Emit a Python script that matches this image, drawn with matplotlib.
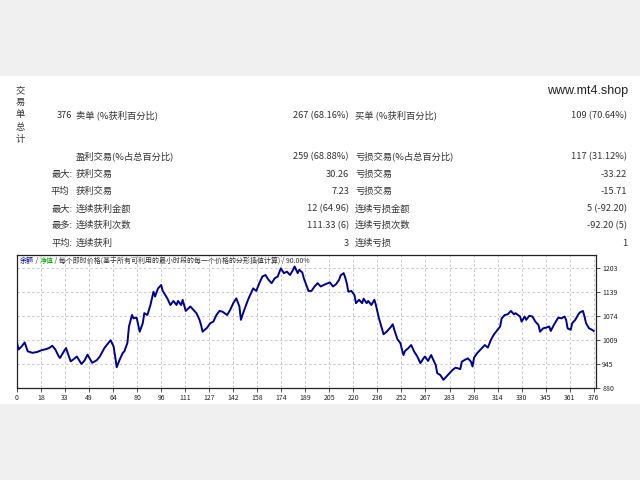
import numpy as np
import matplotlib
matplotlib.use("Agg")
import matplotlib.pyplot as plt
from matplotlib.patches import Rectangle

plt.rcParams['font.family'] = ['Noto Sans CJK SC', 'DejaVu Sans']

# balance curve (trade number, balance)
trade_idx = [0, 1, 3, 5, 7, 10, 13, 16, 19, 21, 23, 25, 27, 28, 30, 32, 33, 35, 37, 39,
             42, 44, 46, 49, 52, 54, 57, 61, 63, 64, 65, 67, 69, 70, 72, 73, 75, 76, 78, 80,
             82, 83, 85, 87, 89, 90, 92, 94, 95, 98, 100, 102, 104, 105, 107, 108, 110, 113, 115, 117,
             119, 120, 121, 124, 126, 128, 130, 132, 134, 137, 139, 141, 143, 145, 146, 147, 149, 151, 154, 156,
             158, 160, 162, 164, 166, 168, 170, 172, 174, 176, 178, 180, 181, 183, 184, 186, 187, 189, 190, 192,
             194, 196, 198, 201, 204, 206, 208, 210, 211, 213, 214, 215, 216, 218, 220, 221, 223, 225, 226, 228,
             229, 231, 233, 234, 236, 239, 241, 244, 245, 246, 248, 250, 251, 252, 253, 255, 257, 258, 259, 261,
             263, 265, 266, 268, 270, 271, 273, 274, 276, 278, 280, 282, 284, 286, 289, 290, 292, 294, 296, 297,
             298, 300, 303, 305, 307, 309, 311, 312, 315, 316, 318, 320, 322, 324, 325, 328, 329, 331, 332, 334,
             336, 338, 340, 341, 343, 345, 347, 348, 350, 352, 353, 355, 357, 358, 359, 361, 362, 364, 366, 367,
             369, 370, 371, 373, 375, 376]
balance = [1002, 984, 992, 1003, 979, 975, 977, 982, 985, 988, 994, 984, 967, 961, 975, 988, 975, 952, 958, 965,
           945, 954, 970, 948, 955, 965, 988, 1009, 992, 965, 936, 957, 975, 979, 1002, 1046, 1077, 1068, 1070, 1032,
           1055, 1082, 1077, 1104, 1140, 1127, 1149, 1158, 1142, 1122, 1104, 1115, 1104, 1115, 1104, 1118, 1088, 1100, 1091, 1082,
           1064, 1050, 1032, 1043, 1055, 1059, 1077, 1088, 1086, 1077, 1091, 1109, 1122, 1100, 1064, 1077, 1100, 1122, 1149, 1142,
           1163, 1181, 1185, 1172, 1163, 1176, 1181, 1203, 1190, 1194, 1185, 1199, 1208, 1190, 1199, 1192, 1176, 1154, 1142, 1142,
           1154, 1163, 1154, 1160, 1165, 1154, 1160, 1172, 1184, 1190, 1178, 1163, 1140, 1142, 1131, 1109, 1118, 1109, 1121, 1109,
           1115, 1104, 1118, 1104, 1068, 1025, 1032, 1046, 1052, 1037, 1012, 1001, 983, 969, 980, 987, 996, 987, 978, 965,
           947, 960, 965, 953, 969, 960, 942, 920, 915, 902, 911, 920, 929, 935, 931, 951, 956, 960, 951, 938,
           962, 974, 987, 996, 989, 1010, 1025, 1030, 1046, 1068, 1077, 1079, 1088, 1079, 1082, 1073, 1059, 1073, 1064, 1075,
           1073, 1059, 1050, 1032, 1041, 1043, 1046, 1034, 1050, 1064, 1070, 1068, 1073, 1064, 1041, 1037, 1055, 1064, 1079, 1084,
           1088, 1073, 1055, 1041, 1037, 1034]

x_labels = ['0', '18', '33', '49', '64', '80', '96', '111', '127', '142', '158', '174', '189',
            '205', '220', '236', '252', '267', '283', '298', '314', '330', '345', '361', '376']
y_ticks = [880, 945, 1009, 1074, 1139, 1203]

# summary table
row_prefix = ['', '', '最大:', '平均', '最大:', '最多:', '平均:']
row_count = ['376', '', '', '', '', '', '']
left_label = ['卖单 (%获利百分比)', '盈利交易(%占总百分比)', '获利交易', '获利交易',
              '连续获利金额', '连续获利次数', '连续获利']
left_value = ['267 (68.16%)', '259 (68.88%)', '30.26', '7.23', '12 (64.96)', '111.33 (6)', '3']
right_label = ['买单 (%获利百分比)', '亏损交易(%占总百分比)', '亏损交易', '亏损交易',
               '连续亏损金额', '连续亏损次数', '连续亏损']
right_value = ['109 (70.64%)', '117 (31.12%)', '-33.22', '-15.71', '5 (-92.20)', '-92.20 (5)', '1']
row_y = [115, 155.7, 173.3, 190.7, 208.3, 225, 242.3]

W, H = 640, 480
fig = plt.figure(figsize=(6.4, 4.8), dpi=100, facecolor='#f0f0f0')
fig.patches.append(Rectangle((0, 1 - 404 / H), 1, (404 - 76) / H, transform=fig.transFigure,
                             facecolor='white', edgecolor='none', zorder=-5))

def px(x, y):
    return x / W, 1 - y / H

tc = '#333333'
fs = 6.7
base = 3.3  # centre of row -> baseline
for k, ch in enumerate('交易单总计'):
    fig.text(*px(20.5, 90 + k * 12.1 + base), ch, fontsize=fs, color=tc, ha='center', va='baseline')

for k in range(len(row_y)):
    y = row_y[k] + base
    if row_prefix[k]:
        xr = 73 if row_prefix[k].endswith(':') else 69
        fig.text(*px(xr, y), row_prefix[k], fontsize=fs, color=tc, ha='right', va='baseline')
    if row_count[k]:
        fig.text(*px(72, y), row_count[k], fontsize=fs, color=tc, ha='right', va='baseline')
    fig.text(*px(76, y), left_label[k], fontsize=fs, color=tc, ha='left', va='baseline')
    fig.text(*px(349, y), left_value[k], fontsize=fs, color=tc, ha='right', va='baseline')
    fig.text(*px(355, y), right_label[k], fontsize=fs, color=tc, ha='left', va='baseline')
    fig.text(*px(627, y), right_value[k], fontsize=fs, color=tc, ha='right', va='baseline')

fig.text(*px(628, 91), 'www.mt4.shop', fontsize=9, family='Liberation Sans',
         color='#222222', ha='right', va='center')

ax = fig.add_axes([17 / W, 1 - 388 / H, (596 - 17) / W, (388 - 255) / H])
ax.plot(trade_idx, balance, color='#00008b', lw=1.4, zorder=3)
ax.set_xlim(0, 377.5)
ax.set_ylim(880, 1239)
ax.set_xticks(np.linspace(0, 376, len(x_labels)))
ax.set_xticklabels(x_labels)
ax.set_yticks(y_ticks)
ax.yaxis.tick_right()
ax.tick_params(axis='both', labelsize=5, length=3, width=0.6, color='#333333',
               labelcolor='#222222', pad=1.5)
ax.grid(True, color='#c8c8c8', lw=0.7, ls=(0, (2.5, 2.5)))
for s in ax.spines.values():
    s.set_color('#222222')
    s.set_linewidth(0.9)

# multi-coloured caption inside the chart
renderer = fig.canvas.get_renderer()
parts = [('余额', '#00008b'), (' / ', '#333333'), ('净值', '#00a000'),
         (' / 每个即时价格(基于所有可利用的最小时段的每一个价格的分形插值计算) / 90.00%', '#333333')]
xc = 19.5
for s, c in parts:
    t = fig.text(xc / W, 1 - 261 / H, s, fontsize=5, color=c, ha='left', va='center', zorder=5)
    xc = t.get_window_extent(renderer).x1

fig.savefig('out.png', dpi=100, facecolor=fig.get_facecolor())
